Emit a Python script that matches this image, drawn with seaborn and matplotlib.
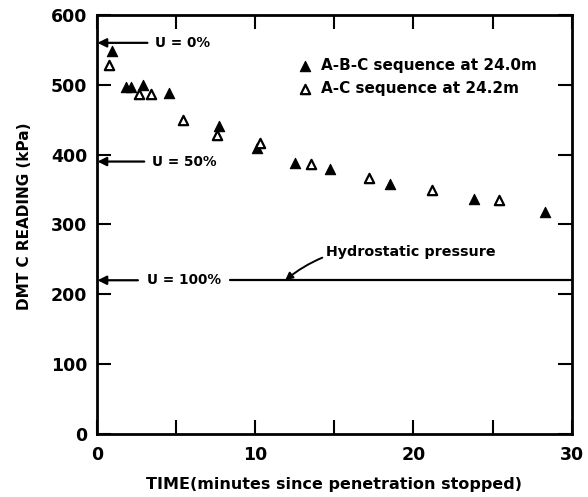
import matplotlib
matplotlib.use("Agg")
import matplotlib.pyplot as plt
import seaborn as sns
import pandas as pd

# ---- data ----
abc_time = [0.95, 1.85, 2.15, 2.95, 4.55, 7.7, 10.1, 12.5, 14.75, 18.55, 23.8, 28.3]
abc_read = [548, 497, 497, 500, 488, 441, 410, 388, 379, 358, 337, 318]
ac_time = [0.8, 2.65, 3.45, 5.45, 7.6, 10.3, 13.5, 17.2, 21.2, 25.4]
ac_read = [528, 487, 487, 449, 428, 417, 387, 367, 349, 335]

abc_label = "A-B-C sequence at 24.0m"
ac_label = "A-C sequence at 24.2m"

u_levels = [560, 390, 220]            # U=0%, U=50%, U=100% (hydrostatic)
u_labels = ["U = 0%", "U = 50%", "U = 100%"]

x_ticks = [0, 5, 10, 15, 20, 25, 30]
x_ticklabels = ["0", "", "10", "", "20", "", "30"]
y_ticks = [0, 100, 200, 300, 400, 500, 600]

x_title = "TIME(minutes since penetration stopped)"
y_title = "DMT C READING (kPa)"
hydro_label = "Hydrostatic pressure"

sns.set_style("ticks")
plt.rcParams["font.family"] = ["DejaVu Sans"]
plt.rcParams["font.weight"] = "bold"
for key in ["text.color", "axes.labelcolor", "xtick.color", "ytick.color",
            "axes.edgecolor"]:
    plt.rcParams[key] = "black"

fig = plt.figure(figsize=(5.88, 4.97), dpi=100)
ax = fig.add_axes([0.1645, 0.127, 0.808, 0.843])

df_abc = pd.DataFrame({"t": abc_time, "r": abc_read})
df_ac = pd.DataFrame({"t": ac_time, "r": ac_read})

sns.scatterplot(data=df_abc, x="t", y="r", marker="^", s=55, color="black",
                edgecolor="black", linewidth=0.8, label=abc_label, ax=ax, zorder=3)
sns.scatterplot(data=df_ac, x="t", y="r", marker="^", s=45, color="white",
                edgecolor="black", linewidth=1.6, label=ac_label, ax=ax, zorder=3)

ax.set_xlim(0, 30)
ax.set_ylim(0, 600)
ax.set_xticks(x_ticks)
ax.set_xticklabels(x_ticklabels)
ax.set_yticks(y_ticks)

for s in ax.spines.values():
    s.set_linewidth(2.0)
    s.set_color("black")
    s.set_visible(True)
ax.tick_params(axis="both", direction="in", length=10, width=1.5,
               top=True, right=True, labelsize=12.5, colors="black")
ax.tick_params(axis="x", pad=9)
ax.tick_params(axis="y", pad=7)
for lab in ax.get_xticklabels() + ax.get_yticklabels():
    lab.set_fontweight("bold")

ax.set_xlabel(x_title, fontsize=11.5, fontweight="bold", color="black")
ax.set_ylabel(y_title, fontsize=11, fontweight="bold", color="black")
ax.xaxis.set_label_coords(0.5, -0.103)
ax.yaxis.set_label_coords(-0.137, 0.52)

# hydrostatic line (to the right of U=100% label)
ax.plot([8.4, 30], [u_levels[2], u_levels[2]], color="black", lw=1.6, zorder=2)

arrow_kw = dict(arrowstyle="-|>", lw=1.6, color="black", mutation_scale=13,
                shrinkA=0, shrinkB=0)
tails = [3.2, 3.0, 2.6]
text_x = [3.65, 3.5, 3.2]
for lvl, lab, tx, tl in zip(u_levels, u_labels, text_x, tails):
    ax.annotate("", xy=(0.05, lvl), xytext=(tl, lvl), arrowprops=arrow_kw)
    ax.text(tx, lvl, lab, fontsize=9.8, fontweight="bold", va="center",
            ha="left", color="black")

ax.annotate(hydro_label, xy=(11.9, u_levels[2]), xytext=(14.45, 260),
            fontsize=10.3, fontweight="bold", va="center", ha="left", color="black",
            arrowprops=dict(arrowstyle="-|>", lw=1.4, color="black",
                            mutation_scale=11, shrinkA=0, shrinkB=0,
                            connectionstyle="arc3,rad=0.25"))

leg = ax.legend(loc="center left", bbox_to_anchor=(0.423, 0.852), frameon=False,
                handletextpad=0.55, borderaxespad=0, borderpad=0,
                labelspacing=0.5, handlelength=1.0,
                prop={"size": 11, "weight": "bold"})
for t in leg.get_texts():
    t.set_color("black")

fig.savefig("out.png", dpi=100)
